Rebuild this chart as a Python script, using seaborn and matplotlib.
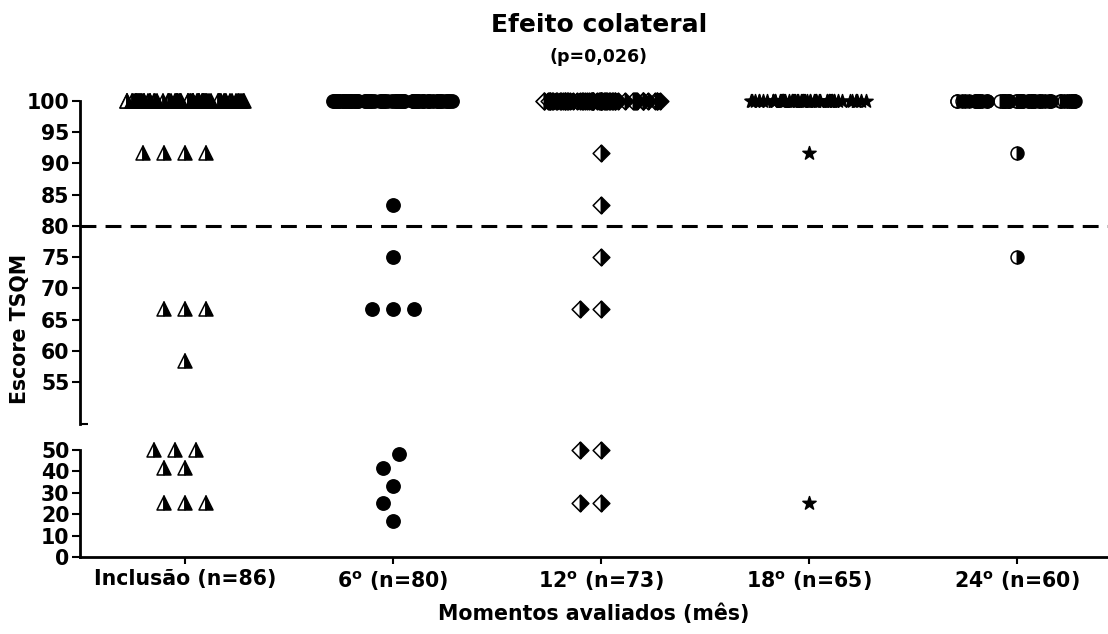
import numpy as np
import pandas as pd
import matplotlib
matplotlib.use("Agg")
import matplotlib.pyplot as plt
from matplotlib.markers import MarkerStyle
from matplotlib.transforms import Affine2D
import seaborn as sns

# moments evaluated and number of patients at each one
groups = ["Inclusão", "6º", "12º", "18º", "24º"]
n_patients = [86, 80, 73, 65, 60]
tick_labels = ["Inclusão (n=86)", r"6$^{\mathrm{o}}$ (n=80)", r"12$^{\mathrm{o}}$ (n=73)",
               r"18$^{\mathrm{o}}$ (n=65)", r"24$^{\mathrm{o}}$ (n=60)"]

# scores below 100, everybody else scored 100
below_inclusao = [91.67, 91.67, 91.67, 91.67, 66.67, 66.67, 66.67, 58.33,
                  50, 50, 50, 41.67, 41.67, 25, 25, 25]
below_6m = [83.33, 75, 66.67, 66.67, 66.67, 47.9, 41.67, 33.33, 25, 16.67]
below_12m = [91.67, 83.33, 75, 66.67, 66.67, 50, 50, 25, 25]
below_18m = [91.67, 25]
below_24m = [91.67, 75]
scores_below_100 = [below_inclusao, below_6m, below_12m, below_18m, below_24m]

cutoff = 80

# marker, half filled?, glyph scale
marker_styles = {
    "Inclusão": ("^", True, 0.75),
    "6º": ("o", False, 0.72),
    "12º": ("D", True, 0.64),
    "18º": ("*", False, 0.75),
    "24º": ("o", True, 0.70),
}

rows = []
for grp, n, below in zip(groups, n_patients, scores_below_100):
    vals = list(below) + [100] * (n - len(below))
    rows += [(grp, v) for v in vals]
df = pd.DataFrame(rows, columns=["momento", "escore"])

sns.set_style("ticks", rc={"axes.edgecolor": "black", "xtick.color": "black",
                           "ytick.color": "black", "text.color": "black",
                           "axes.labelcolor": "black"})
plt.rcParams["font.family"] = ["DejaVu Sans"]
plt.rcParams["font.weight"] = "bold"
plt.rcParams["mathtext.fontset"] = "dejavusans"

FS = 14.8

fig = plt.figure(figsize=(11.08, 6.34), dpi=100)
ax_top = fig.add_axes([0.0722, 0.3312, 0.9278, 0.5095])
ax_bot = fig.add_axes([0.0722, 0.1215, 0.9278, 0.1688])


def draw(ax, data, kind):
    for i, grp in enumerate(groups):
        sub = data[data["momento"] == grp]
        if sub.empty:
            continue
        marker, half, scale = marker_styles[grp]
        fills = [("left", "white"), ("right", "black")] if half else [("full", "black")]
        for fill, face in fills:
            m = MarkerStyle(marker, fillstyle=fill, transform=Affine2D().scale(scale))
            kws = dict(data=sub, x="momento", y="escore", order=groups, ax=ax,
                       marker=m, color=face, edgecolor="black", linewidth=1.1,
                       size=13.3, clip_on=False, zorder=3, legend=False)
            if kind == "strip":
                np.random.seed(i)
                sns.stripplot(jitter=0.29, **kws)
            else:
                sns.swarmplot(**kws)


top = df[df["escore"] > 50]
draw(ax_top, top[top["escore"] == 100], "strip")
draw(ax_top, top[top["escore"] < 100], "swarm")
draw(ax_bot, df[df["escore"] <= 50], "swarm")

ax_top.axhline(cutoff, color="black", lw=2.2, ls=(0, (5.2, 3)), zorder=2)

for ax in (ax_top, ax_bot):
    ax.set_xlim(-0.505, 4.44)
    ax.set_ylabel("")
    ax.spines["top"].set_visible(False)
    ax.spines["right"].set_visible(False)
    ax.spines["left"].set_linewidth(2)
    ax.spines["bottom"].set_linewidth(2)
    ax.tick_params(axis="y", which="major", length=6, width=1.5, pad=1.5, labelsize=FS)

ax_top.set_ylim(48.3, 100)
ax_top.set_yticks(np.arange(55, 101, 5))
ax_top.set_yticks([48.3], minor=True)
ax_top.tick_params(axis="y", which="minor", direction="in", length=6, width=1.5)
ax_top.spines["bottom"].set_visible(False)
ax_top.xaxis.set_visible(False)

ax_bot.set_ylim(0, 50)
ax_bot.set_yticks(np.arange(0, 51, 10))
ax_bot.set_xticks(range(len(groups)))
ax_bot.set_xticklabels(tick_labels)
ax_bot.tick_params(axis="x", length=5, width=1.5, pad=3.5, labelsize=FS)
ax_bot.set_xlabel("Momentos avaliados (mês)", fontsize=FS, fontweight="bold", labelpad=8)

fig.text(0.018, 1 - 329 / 634, "Escore TSQM", rotation=90, ha="center", va="center",
         fontsize=FS, fontweight="bold")
fig.text(0.5406, 1 - 25 / 634, "Efeito colateral", ha="center", va="center",
         fontsize=18, fontweight="bold")
fig.text(0.5406, 1 - 57 / 634, "(p=0,026)", ha="center", va="center",
         fontsize=12.5, fontweight="bold")

fig.savefig("out.png", dpi=100)
